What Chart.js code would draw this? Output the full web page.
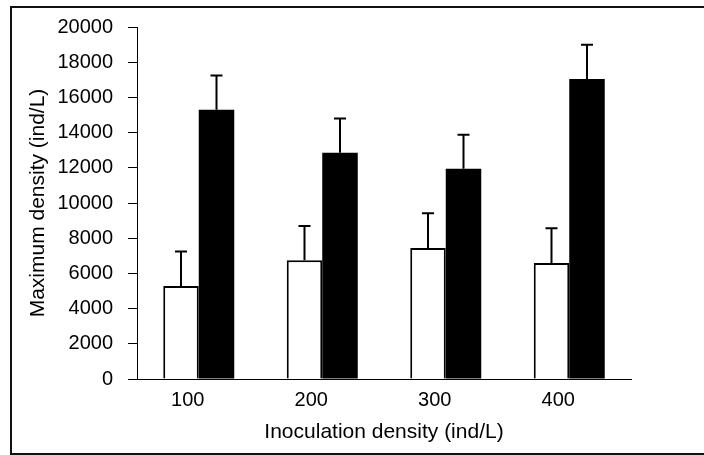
<!DOCTYPE html>
<html>
<head>
<meta charset="utf-8">
<script src="https://cdn.jsdelivr.net/npm/chart.js@4.4.1/dist/chart.umd.min.js"></script>
<style>
  html, body { margin: 0; padding: 0; background: #fff; }
  #wrap { width: 704px; height: 455px; position: relative; }
</style>
</head>
<body>
<div id="wrap"><canvas id="barChart" width="704" height="455"></canvas></div>
<script>
// data
const categories = ['100', '200', '300', '400'];
const whiteValues = [5280, 6750, 7450, 6590];
const whiteErrors = [1970, 1950, 1970, 1970];
const blackValues = [15300, 12850, 11950, 17050];
const blackErrors = [1950, 1950, 1930, 1940];
const yTicks = [0, 2000, 4000, 6000, 8000, 10000, 12000, 14000, 16000, 18000, 20000];

const FONT = "'Liberation Sans', Arial, sans-serif";

// upward-only error bars with a cap
const errorBars = {
    id: 'errorBars',
    afterDatasetsDraw(chart) {
        const ctx = chart.ctx;
        const yScale = chart.scales.y;
        chart.data.datasets.forEach((ds, i) => {
            const meta = chart.getDatasetMeta(i);
            meta.data.forEach((bar, j) => {
                const top = yScale.getPixelForValue(ds.data[j] + ds.errors[j]);
                ctx.save();
                ctx.strokeStyle = '#000';
                ctx.lineWidth = 2;
                ctx.beginPath();
                ctx.moveTo(bar.x, bar.y);
                ctx.lineTo(bar.x, top);
                ctx.moveTo(bar.x - 6, top);
                ctx.lineTo(bar.x + 6, top);
                ctx.stroke();
                ctx.restore();
            });
        });
    }
};

// outer frame around the figure
const frame = {
    id: 'frame',
    afterDraw(chart) {
        const ctx = chart.ctx;
        ctx.save();
        ctx.strokeStyle = '#111';
        ctx.lineWidth = 2;
        ctx.strokeRect(11, 7, 720, 447);
        ctx.restore();
    }
};

const barCtx = document.getElementById('barChart').getContext('2d');
const barChart = new Chart(barCtx, {
    type: 'bar',
    data: {
        labels: categories,
        datasets: [
            {
                label: 'White',
                data: whiteValues,
                errors: whiteErrors,
                backgroundColor: '#fff',
                borderColor: '#000',
                borderWidth: 2
            },
            {
                label: 'Black',
                data: blackValues,
                errors: blackErrors,
                backgroundColor: '#000',
                borderColor: '#000',
                borderWidth: 0
            }
        ]
    },
    options: {
        responsive: false,
        animation: false,
        layout: { padding: { left: 26, right: 73, top: 23, bottom: 10 } },
        datasets: { bar: { barPercentage: 1, categoryPercentage: 0.575 } },
        plugins: { legend: { display: false }, tooltip: { enabled: false } },
        scales: {
            x: {
                grid: { display: false, drawTicks: false },
                border: { display: true, color: '#000', width: 1 },
                ticks: { color: '#000', padding: 9, labelOffset: -11, font: { family: FONT, size: 20 } },
                title: {
                    display: true,
                    text: 'Inoculation density (ind/L)',
                    color: '#000',
                    font: { family: FONT, size: 21 },
                    padding: { top: 0, bottom: 0 }
                },
                afterFit: (scale) => { scale.height = 66; }
            },
            y: {
                min: 0,
                max: 20000,
                afterBuildTicks: (scale) => { scale.ticks = yTicks.map(v => ({ value: v })); },
                grid: { drawOnChartArea: false, drawTicks: true, tickLength: 9, color: '#000' },
                border: { display: true, color: '#000', width: 1 },
                ticks: {
                    color: '#000',
                    padding: 15,
                    font: { family: FONT, size: 20 },
                    callback: (v) => String(v)
                },
                title: {
                    display: true,
                    text: 'Maximum density (ind/L)',
                    color: '#000',
                    font: { family: FONT, size: 21 },
                    padding: { top: 0, bottom: 10 }
                },
                afterFit: (scale) => { scale.width = 111; }
            }
        }
    },
    plugins: [errorBars, frame]
});
</script>
</body>
</html>
